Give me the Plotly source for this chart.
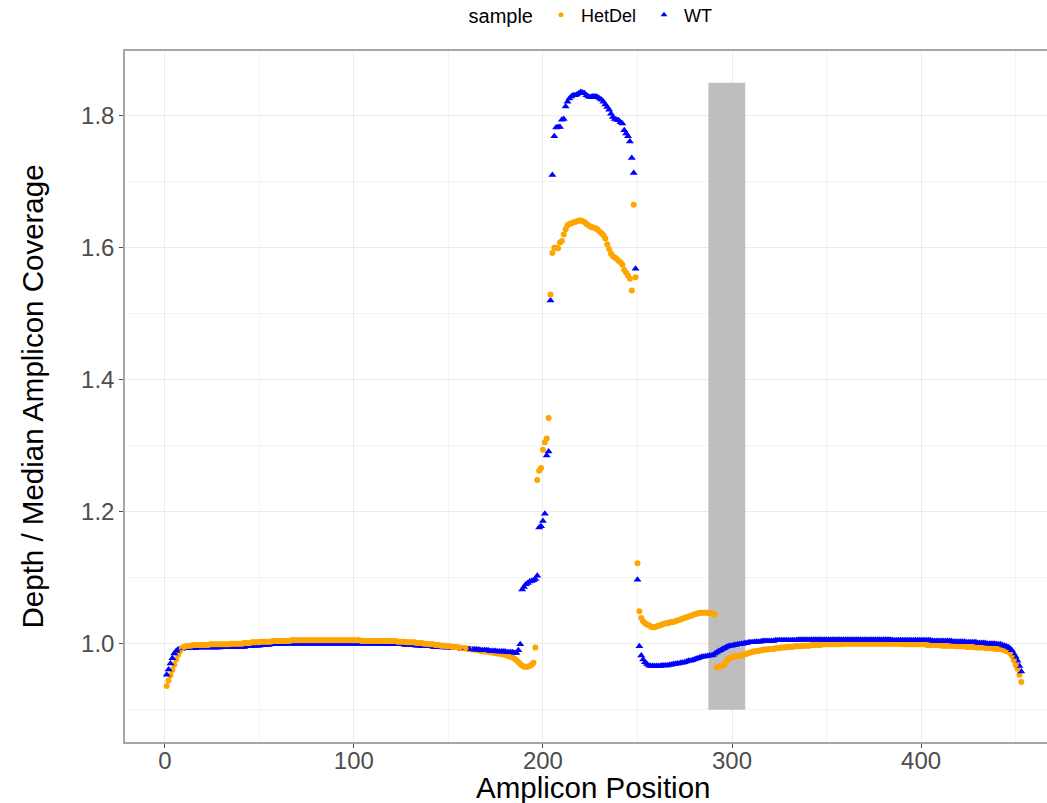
import plotly.graph_objects as go

# ---------------- data ----------------
positions = list(range(1, 454))

wt_depth = [
    # 1-10
    0.953, 0.961, 0.970, 0.978, 0.985, 0.989, 0.991, 0.992, 0.992, 0.993,
    # 11-20
    0.993, 0.993, 0.993, 0.993, 0.993, 0.993, 0.994, 0.994, 0.994, 0.994,
    # 21-30
    0.994, 0.994, 0.994, 0.994, 0.994, 0.994, 0.994, 0.994, 0.994, 0.995,
    # 31-40
    0.995, 0.995, 0.995, 0.995, 0.995, 0.995, 0.995, 0.995, 0.995, 0.995,
    # 41-50
    0.995, 0.995, 0.996, 0.996, 0.996, 0.996, 0.997, 0.997, 0.997, 0.997,
    # 51-60
    0.998, 0.998, 0.998, 0.998, 0.998, 0.999, 0.999, 0.999, 0.999, 0.999,
    # 61-70
    0.999, 0.999, 0.999, 1.000, 1.000, 1.000, 1.000, 1.000, 1.000, 1.000,
    # 71-80
    1.000, 1.000, 1.000, 1.000, 1.000, 1.000, 1.000, 1.000, 1.000, 1.000,
    # 81-90
    1.000, 1.000, 1.000, 1.000, 1.000, 1.000, 1.000, 1.000, 1.000, 1.000,
    # 91-100
    1.000, 1.000, 1.000, 1.000, 1.000, 1.000, 1.000, 1.000, 1.000, 1.000,
    # 101-110
    1.000, 1.000, 1.000, 1.000, 1.000, 1.000, 1.000, 1.000, 1.000, 1.000,
    # 111-120
    1.000, 1.000, 1.000, 1.000, 1.000, 0.999, 0.999, 0.999, 0.999, 0.999,
    # 121-130
    0.999, 0.999, 0.999, 0.999, 0.999, 0.999, 0.998, 0.998, 0.998, 0.998,
    # 131-140
    0.998, 0.998, 0.997, 0.997, 0.997, 0.997, 0.996, 0.996, 0.996, 0.996,
    # 141-150
    0.996, 0.995, 0.995, 0.995, 0.995, 0.995, 0.994, 0.994, 0.994, 0.994,
    # 151-160
    0.994, 0.993, 0.993, 0.993, 0.993, 0.993, 0.992, 0.992, 0.992, 0.992,
    # 161-170
    0.992, 0.991, 0.991, 0.991, 0.991, 0.991, 0.990, 0.990, 0.990, 0.990,
    # 171-180
    0.990, 0.989, 0.989, 0.989, 0.989, 0.988, 0.988, 0.988, 0.988, 0.988,
    # 181-190
    0.987, 0.987, 0.987, 0.987, 0.986, 0.986, 0.990, 0.999, 1.082, 1.086,
    # 191-200
    1.090, 1.092, 1.094, 1.095, 1.096, 1.098, 1.103, 1.176, 1.178, 1.186,
    # 201-210
    1.197, 1.285, 1.291, 1.520, 1.710, 1.769, 1.782, 1.783, 1.783, 1.794,
    # 211-220
    1.795, 1.814, 1.821, 1.826, 1.829, 1.831, 1.831, 1.832, 1.834, 1.836,
    # 221-230
    1.835, 1.834, 1.831, 1.829, 1.828, 1.829, 1.829, 1.829, 1.828, 1.826,
    # 231-240
    1.824, 1.821, 1.817, 1.813, 1.809, 1.803, 1.798, 1.795, 1.794, 1.793,
    # 241-250
    1.790, 1.788, 1.778, 1.773, 1.769, 1.761, 1.736, 1.713, 1.568, 1.097,
    # 251-260
    0.996, 0.982, 0.976, 0.972, 0.969, 0.967, 0.966, 0.966, 0.966, 0.966,
    # 261-270
    0.966, 0.966, 0.967, 0.967, 0.967, 0.967, 0.968, 0.968, 0.969, 0.969,
    # 271-280
    0.970, 0.970, 0.971, 0.971, 0.972, 0.973, 0.974, 0.974, 0.975, 0.976,
    # 281-290
    0.977, 0.978, 0.979, 0.980, 0.980, 0.981, 0.981, 0.982, 0.982, 0.983,
    # 291-300
    0.985, 0.987, 0.989, 0.990, 0.992, 0.993, 0.995, 0.996, 0.997, 0.997,
    # 301-310
    0.998, 0.998, 0.999, 0.999, 1.000, 1.000, 1.001, 1.001, 1.002, 1.002,
    # 311-320
    1.002, 1.003, 1.003, 1.003, 1.003, 1.004, 1.004, 1.004, 1.004, 1.004,
    # 321-330
    1.004, 1.004, 1.005, 1.005, 1.005, 1.005, 1.005, 1.005, 1.005, 1.005,
    # 331-340
    1.005, 1.005, 1.005, 1.005, 1.006, 1.006, 1.006, 1.006, 1.006, 1.006,
    # 341-350
    1.006, 1.006, 1.006, 1.006, 1.006, 1.006, 1.006, 1.006, 1.006, 1.006,
    # 351-360
    1.006, 1.006, 1.006, 1.006, 1.006, 1.006, 1.006, 1.006, 1.006, 1.006,
    # 361-370
    1.006, 1.006, 1.006, 1.006, 1.006, 1.006, 1.006, 1.006, 1.006, 1.006,
    # 371-380
    1.006, 1.006, 1.006, 1.006, 1.006, 1.006, 1.006, 1.006, 1.006, 1.006,
    # 381-390
    1.006, 1.006, 1.006, 1.006, 1.005, 1.005, 1.005, 1.005, 1.005, 1.005,
    # 391-400
    1.005, 1.005, 1.005, 1.005, 1.005, 1.005, 1.005, 1.005, 1.005, 1.005,
    # 401-410
    1.005, 1.005, 1.005, 1.005, 1.005, 1.004, 1.004, 1.004, 1.004, 1.004,
    # 411-420
    1.004, 1.004, 1.004, 1.004, 1.004, 1.004, 1.003, 1.003, 1.003, 1.003,
    # 421-430
    1.003, 1.003, 1.003, 1.002, 1.002, 1.002, 1.002, 1.002, 1.002, 1.001,
    # 431-440
    1.001, 1.001, 1.001, 1.001, 1.000, 1.000, 1.000, 1.000, 1.000, 0.999,
    # 441-450
    0.999, 0.999, 0.998, 0.997, 0.996, 0.995, 0.993, 0.990, 0.985, 0.980,
    # 451-453
    0.974, 0.966, 0.958,
]

hetdel_depth = [
    # 1-10
    0.936, 0.944, 0.952, 0.960, 0.968, 0.976, 0.983, 0.989, 0.993, 0.995,
    # 11-20
    0.996, 0.997, 0.997, 0.997, 0.998, 0.998, 0.998, 0.998, 0.998, 0.998,
    # 21-30
    0.998, 0.998, 0.998, 0.999, 0.999, 0.999, 0.999, 0.999, 0.999, 0.999,
    # 31-40
    0.999, 0.999, 0.999, 0.999, 1.000, 1.000, 1.000, 1.000, 1.000, 1.000,
    # 41-50
    1.000, 1.001, 1.001, 1.001, 1.001, 1.002, 1.002, 1.002, 1.002, 1.002,
    # 51-60
    1.003, 1.003, 1.003, 1.003, 1.003, 1.003, 1.004, 1.004, 1.004, 1.004,
    # 61-70
    1.004, 1.004, 1.004, 1.004, 1.004, 1.004, 1.005, 1.005, 1.005, 1.005,
    # 71-80
    1.005, 1.005, 1.005, 1.005, 1.005, 1.005, 1.005, 1.005, 1.005, 1.005,
    # 81-90
    1.005, 1.005, 1.005, 1.005, 1.005, 1.005, 1.005, 1.005, 1.005, 1.005,
    # 91-100
    1.005, 1.005, 1.005, 1.005, 1.005, 1.005, 1.005, 1.005, 1.005, 1.005,
    # 101-110
    1.005, 1.005, 1.005, 1.004, 1.004, 1.004, 1.004, 1.004, 1.004, 1.004,
    # 111-120
    1.004, 1.004, 1.004, 1.004, 1.004, 1.004, 1.004, 1.004, 1.004, 1.004,
    # 121-130
    1.004, 1.004, 1.003, 1.003, 1.003, 1.003, 1.003, 1.002, 1.002, 1.002,
    # 131-140
    1.002, 1.002, 1.001, 1.001, 1.001, 1.001, 1.000, 1.000, 1.000, 0.999,
    # 141-150
    0.999, 0.999, 0.998, 0.998, 0.998, 0.997, 0.997, 0.997, 0.996, 0.996,
    # 151-160
    0.996, 0.995, 0.995, 0.995, 0.994, 0.994, 0.993, 0.993, 0.993, 0.992,
    # 161-170
    0.992, 0.991, 0.991, 0.991, 0.990, 0.990, 0.989, 0.989, 0.988, 0.988,
    # 171-180
    0.988, 0.987, 0.987, 0.986, 0.986, 0.985, 0.985, 0.984, 0.984, 0.983,
    # 181-190
    0.982, 0.981, 0.980, 0.979, 0.977, 0.975, 0.972, 0.969, 0.967, 0.965,
    # 191-200
    0.965, 0.965, 0.966, 0.968, 0.971, 0.994, 1.248, 1.262, 1.266, 1.294,
    # 201-210
    1.305, 1.311, 1.342, 1.529, 1.592, 1.600, 1.600, 1.599, 1.608, 1.610,
    # 211-220
    1.620, 1.628, 1.634, 1.636, 1.637, 1.638, 1.639, 1.640, 1.641, 1.641,
    # 221-230
    1.640, 1.639, 1.636, 1.634, 1.632, 1.631, 1.630, 1.629, 1.627, 1.624,
    # 231-240
    1.622, 1.619, 1.614, 1.605, 1.598, 1.591, 1.587, 1.585, 1.583, 1.580,
    # 241-250
    1.578, 1.574, 1.566, 1.562, 1.558, 1.553, 1.535, 1.665, 1.555, 1.122,
    # 251-260
    1.049, 1.039, 1.034, 1.031, 1.029, 1.028, 1.026, 1.025, 1.025, 1.026,
    # 261-270
    1.027, 1.028, 1.029, 1.030, 1.031, 1.031, 1.032, 1.033, 1.033, 1.034,
    # 271-280
    1.035, 1.036, 1.037, 1.038, 1.039, 1.040, 1.041, 1.042, 1.043, 1.044,
    # 281-290
    1.045, 1.046, 1.047, 1.047, 1.047, 1.047, 1.047, 1.046, 1.046, 1.045,
    # 291-300
    1.044, 0.964, 0.965, 0.966, 0.967, 0.968, 0.973, 0.977, 0.978, 0.979,
    # 301-310
    0.980, 0.981, 0.981, 0.982, 0.982, 0.983, 0.984, 0.985, 0.986, 0.987,
    # 311-320
    0.988, 0.988, 0.989, 0.989, 0.990, 0.990, 0.991, 0.991, 0.991, 0.992,
    # 321-330
    0.992, 0.992, 0.993, 0.993, 0.993, 0.994, 0.994, 0.994, 0.995, 0.995,
    # 331-340
    0.995, 0.995, 0.996, 0.996, 0.996, 0.996, 0.997, 0.997, 0.997, 0.997,
    # 341-350
    0.997, 0.998, 0.998, 0.998, 0.998, 0.998, 0.998, 0.999, 0.999, 0.999,
    # 351-360
    0.999, 0.999, 0.999, 0.999, 0.999, 0.999, 0.999, 1.000, 1.000, 1.000,
    # 361-370
    1.000, 1.000, 1.000, 1.000, 1.000, 1.000, 1.000, 1.000, 1.000, 1.000,
    # 371-380
    1.000, 1.000, 1.000, 1.000, 1.000, 1.000, 1.000, 1.000, 1.000, 1.000,
    # 381-390
    1.000, 1.000, 1.000, 1.000, 1.000, 1.000, 1.000, 1.000, 1.000, 1.000,
    # 391-400
    0.999, 0.999, 0.999, 0.999, 0.999, 0.999, 0.999, 0.999, 0.999, 0.999,
    # 401-410
    0.999, 0.999, 0.998, 0.998, 0.998, 0.998, 0.998, 0.998, 0.998, 0.998,
    # 411-420
    0.997, 0.997, 0.997, 0.997, 0.997, 0.997, 0.997, 0.996, 0.996, 0.996,
    # 421-430
    0.996, 0.996, 0.996, 0.995, 0.995, 0.995, 0.995, 0.995, 0.994, 0.994,
    # 431-440
    0.994, 0.994, 0.994, 0.993, 0.993, 0.993, 0.993, 0.993, 0.992, 0.992,
    # 441-450
    0.992, 0.992, 0.991, 0.990, 0.989, 0.988, 0.986, 0.982, 0.975, 0.968,
    # 451-453
    0.962, 0.953, 0.942,
]

# highlighted region (shaded rectangle)
region_x = [287.5, 307.0]
region_y = [0.9, 1.85]

x_ticks = [0, 100, 200, 300, 400]
y_ticks = [1.0, 1.2, 1.4, 1.6, 1.8]

samples = ["HetDel", "WT"]
sample_colors = {"HetDel": "#FFA500", "WT": "#0000FF"}
sample_symbols = {"HetDel": "circle", "WT": "triangle-up"}
sample_sizes = {"HetDel": 6, "WT": 7}

series = {"HetDel": hetdel_depth, "WT": wt_depth}

# ---------------- figure ----------------
fig = go.Figure()

# all points in one layer, drawn in order of increasing depth (upper points on top)
pts = []
for name in samples:
    for xv, yv in zip(positions, series[name]):
        pts.append((yv, xv, name))
pts.sort(key=lambda p: p[0])

fig.add_trace(go.Scatter(
    x=[p[1] for p in pts], y=[p[0] for p in pts], mode="markers",
    showlegend=False, hoverinfo="x+y",
    marker=dict(color=[sample_colors[p[2]] for p in pts],
                symbol=[sample_symbols[p[2]] for p in pts],
                size=[sample_sizes[p[2]] for p in pts],
                opacity=1, line=dict(width=0)),
))

# legend entries
for name in samples:
    fig.add_trace(go.Scatter(
        x=[None], y=[None], mode="markers", name=name,
        marker=dict(color=sample_colors[name], symbol=sample_symbols[name],
                    size=sample_sizes[name] - 1, line=dict(width=0)),
    ))

fig.add_shape(type="rect", xref="x", yref="y",
              x0=region_x[0], x1=region_x[1], y0=region_y[0], y1=region_y[1],
              fillcolor="#bebebe", line=dict(width=0), layer="between")

FONT = "Liberation Sans, Arial, sans-serif"
axis_font = dict(family=FONT, size=24, color="#4d4d4d")
title_font = dict(family=FONT, size=29.5, color="#000000")

fig.add_annotation(text="Amplicon Position", xref="paper", yref="paper",
                   x=0.5076, y=-0.0656, xanchor="center", yanchor="middle",
                   showarrow=False, font=title_font)
fig.add_annotation(text="Depth / Median Amplicon Coverage", xref="paper", yref="paper",
                   x=-0.0998, y=0.5, xanchor="center", yanchor="middle", textangle=-90,
                   showarrow=False, font=title_font)

fig.update_layout(
    width=1047, height=803,
    margin=dict(l=125, r=0, t=51, b=61, autoexpand=False),
    paper_bgcolor="white", plot_bgcolor="white",
    font=dict(family=FONT),
    showlegend=True,
    legend=dict(
        orientation="h", x=0.5228, xanchor="center",
        yref="paper", y=1.052, yanchor="middle",
        title=dict(text="sample", font=dict(size=20, color="#000000"), side="left"),
        font=dict(size=18, color="#000000"),
        itemsizing="trace", traceorder="normal", itemwidth=30,
        entrywidth=58, entrywidthmode="pixels",
        bgcolor="rgba(0,0,0,0)",
    ),
    xaxis=dict(
        range=[-21.05, 466.6], tickvals=x_ticks, ticktext=[str(v) for v in x_ticks],
        showgrid=True, gridcolor="#ebebeb", gridwidth=1.2,
        minor=dict(dtick=50, tick0=50, showgrid=True, gridcolor="#f3f3f3", gridwidth=0.8),
        zeroline=False, showline=True, linecolor="#a6a6a6", linewidth=1.5, mirror=True,
        ticks="outside", ticklen=4, tickcolor="#4d4d4d", tickwidth=1,
        tickfont=axis_font, automargin=False,
    ),
    yaxis=dict(
        range=[0.851, 1.898], tickvals=y_ticks, ticktext=[f"{v:.1f}" for v in y_ticks],
        showgrid=True, gridcolor="#ebebeb", gridwidth=1.2,
        minor=dict(dtick=0.2, tick0=0.9, showgrid=True, gridcolor="#f3f3f3", gridwidth=0.8),
        zeroline=False, showline=True, linecolor="#a6a6a6", linewidth=1.5, mirror=False,
        ticks="outside", ticklen=4, tickcolor="#4d4d4d", tickwidth=1,
        tickfont=axis_font, automargin=False,
    ),
)

# pull the x tick labels a little closer to the axis line
try:
    fig.update_xaxes(ticklabelstandoff=-8)
except Exception:
    pass

# remove the browser's default page margin so the figure sits at the window's corner
fig.write_html("out.html",
               config={"displayModeBar": False},
               post_script="document.body.style.margin='0px';document.body.style.overflow='hidden';")
